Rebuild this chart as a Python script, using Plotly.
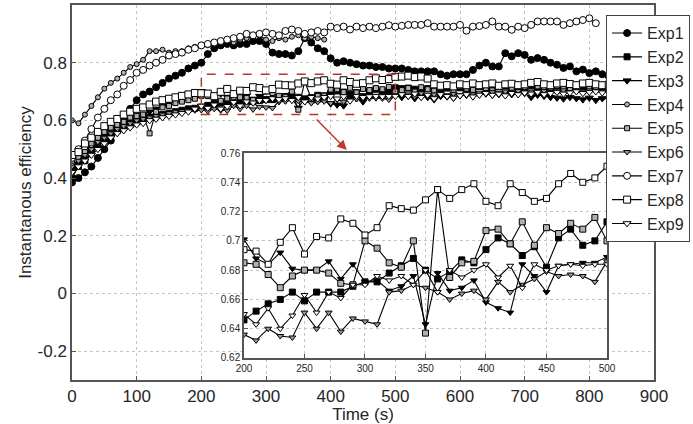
import plotly.graph_objects as go

# sampling every 10 s
time_s = list(range(0, 840, 10))

exp1 = [0.385, 0.40, 0.42, 0.44, 0.47, 0.50, 0.53, 0.57, 0.60, 0.64, 0.67, 0.69, 0.70, 0.715, 0.73, 0.745, 0.755, 0.765, 0.78, 0.79, 0.80,
        0.83, 0.85, 0.86, 0.865, 0.86, 0.865, 0.865, 0.875, 0.875, 0.865, 0.835, 0.83, 0.83, 0.825, 0.84, 0.885, 0.87, 0.85, 0.84, 0.815,
        0.80, 0.805, 0.80, 0.795, 0.79, 0.79, 0.785, 0.785, 0.78, 0.78,
        0.78, 0.775, 0.77, 0.77, 0.77, 0.77, 0.76, 0.755, 0.76, 0.76, 0.76, 0.775, 0.79, 0.80, 0.787, 0.787, 0.833, 0.822, 0.833, 0.827,
        0.81, 0.816, 0.81, 0.80, 0.793, 0.782, 0.787, 0.77, 0.776, 0.764, 0.77, 0.76, 0.753]
exp2 = [0.40, 0.44, 0.46, 0.49, 0.51, 0.53, 0.55, 0.565, 0.575, 0.585, 0.595, 0.605, 0.61, 0.615, 0.62, 0.625, 0.63, 0.635, 0.64, 0.642, 0.646,
        0.652, 0.657, 0.660, 0.665, 0.659, 0.665, 0.665, 0.665, 0.669, 0.672, 0.672, 0.678, 0.683, 0.688, 0.680, 0.674, 0.679, 0.687, 0.685, 0.694,
        0.702, 0.698, 0.690, 0.696, 0.682, 0.702, 0.708, 0.697, 0.700, 0.713,
        0.710, 0.712, 0.708, 0.705, 0.710, 0.715, 0.708, 0.712, 0.716, 0.713, 0.710, 0.714, 0.718, 0.715, 0.712, 0.716, 0.719, 0.715, 0.712, 0.716,
        0.720, 0.716, 0.713, 0.717, 0.719, 0.715, 0.718, 0.720, 0.716, 0.718, 0.720, 0.717, 0.715]
exp3 = [0.43, 0.45, 0.47, 0.50, 0.52, 0.545, 0.56, 0.575, 0.585, 0.60, 0.61, 0.62, 0.63, 0.64, 0.65, 0.66, 0.665, 0.675, 0.68, 0.69, 0.701,
        0.688, 0.684, 0.692, 0.681, 0.680, 0.680, 0.686, 0.674, 0.684, 0.672, 0.673, 0.666, 0.669, 0.676, 0.643, 0.678, 0.666, 0.668, 0.673, 0.658,
        0.654, 0.651, 0.684, 0.676, 0.665, 0.683, 0.684, 0.685, 0.685, 0.689,
        0.680, 0.684, 0.676, 0.686, 0.680, 0.672, 0.684, 0.686, 0.678, 0.686, 0.688, 0.684, 0.690, 0.692, 0.688, 0.690, 0.693, 0.690, 0.692, 0.694,
        0.680, 0.688, 0.684, 0.680, 0.678, 0.675, 0.680, 0.676, 0.672, 0.678, 0.670, 0.676, 0.674]
exp4 = [0.60, 0.59, 0.62, 0.65, 0.68, 0.71, 0.73, 0.745, 0.765, 0.785, 0.795, 0.81, 0.84, 0.84, 0.845, 0.835, 0.84, 0.84, 0.85, 0.855, 0.86,
        0.86, 0.865, 0.87, 0.875, 0.87, 0.88, 0.885, 0.89, 0.895, 0.88, 0.875, 0.885, 0.88, 0.89, 0.895, 0.885, 0.89, 0.885, 0.88]
exp5 = [0.46, 0.47, 0.49, 0.52, 0.54, 0.56, 0.575, 0.585, 0.595, 0.61, 0.615, 0.62, 0.555, 0.63, 0.645, 0.65, 0.66, 0.665, 0.67, 0.675, 0.685,
        0.684, 0.677, 0.668, 0.676, 0.680, 0.680, 0.678, 0.671, 0.670, 0.700, 0.695, 0.685, 0.682, 0.700, 0.637, 0.735, 0.675, 0.685, 0.686, 0.707,
        0.708, 0.698, 0.713, 0.697, 0.709, 0.705, 0.712, 0.708, 0.716, 0.700,
        0.705, 0.712, 0.700, 0.715, 0.708, 0.703, 0.712, 0.716, 0.705, 0.718, 0.710, 0.706, 0.716, 0.712, 0.704, 0.718, 0.722, 0.713, 0.708, 0.716,
        0.724, 0.718, 0.710, 0.714, 0.720, 0.712, 0.708, 0.718, 0.722, 0.716, 0.712, 0.718, 0.720]
exp6 = [0.44, 0.46, 0.48, 0.50, 0.525, 0.54, 0.555, 0.57, 0.58, 0.59, 0.60, 0.605, 0.61, 0.615, 0.62, 0.625, 0.63, 0.632, 0.634, 0.635, 0.636,
        0.632, 0.640, 0.635, 0.634, 0.651, 0.640, 0.651, 0.638, 0.647, 0.645, 0.643, 0.665, 0.666, 0.670, 0.668, 0.665, 0.660, 0.664, 0.666, 0.660,
        0.672, 0.665, 0.670, 0.674, 0.679, 0.676, 0.677, 0.676, 0.672, 0.686,
        0.688, 0.690, 0.682, 0.694, 0.686, 0.690, 0.684, 0.680, 0.692, 0.688, 0.694, 0.690, 0.696, 0.692, 0.698, 0.694, 0.700, 0.696, 0.702, 0.698,
        0.700, 0.696, 0.702, 0.698, 0.700, 0.704, 0.698, 0.702, 0.700, 0.704, 0.702, 0.700, 0.703]
exp7 = [0.47, 0.50, 0.53, 0.57, 0.61, 0.64, 0.67, 0.69, 0.72, 0.74, 0.765, 0.775, 0.79, 0.80, 0.81, 0.825, 0.83, 0.835, 0.845, 0.85, 0.86,
        0.865, 0.87, 0.875, 0.88, 0.885, 0.89, 0.90, 0.895, 0.90, 0.905, 0.90, 0.895, 0.91, 0.915, 0.91, 0.90, 0.905, 0.91, 0.905, 0.925,
        0.92, 0.925, 0.915, 0.925, 0.92, 0.925, 0.92, 0.925, 0.93, 0.925,
        0.928, 0.931, 0.931, 0.931, 0.937, 0.925, 0.925, 0.925, 0.925, 0.931, 0.911, 0.925, 0.927, 0.931, 0.943, 0.925, 0.925, 0.914, 0.925, 0.92,
        0.931, 0.943, 0.943, 0.943, 0.943, 0.931, 0.937, 0.943, 0.948, 0.954, 0.937]
exp8 = [0.48, 0.49, 0.52, 0.54, 0.56, 0.58, 0.595, 0.605, 0.62, 0.63, 0.64, 0.645, 0.655, 0.665, 0.67, 0.675, 0.68, 0.685, 0.69, 0.695, 0.694,
        0.693, 0.684, 0.699, 0.709, 0.691, 0.703, 0.702, 0.715, 0.712, 0.704, 0.709, 0.724, 0.722, 0.721, 0.728, 0.735, 0.729, 0.735, 0.739, 0.727,
        0.724, 0.739, 0.733, 0.727, 0.729, 0.739, 0.746, 0.740, 0.743, 0.751,
        0.752, 0.755, 0.750, 0.752, 0.745, 0.725, 0.720, 0.722, 0.718, 0.725, 0.722, 0.728, 0.722, 0.725, 0.728, 0.720, 0.725, 0.727, 0.722, 0.725,
        0.730, 0.733, 0.725, 0.722, 0.728, 0.730, 0.726, 0.722, 0.728, 0.730, 0.725, 0.722, 0.724]
exp9 = [0.42, 0.44, 0.46, 0.48, 0.50, 0.52, 0.54, 0.555, 0.565, 0.575, 0.585, 0.59, 0.60, 0.605, 0.61, 0.615, 0.62, 0.625, 0.63, 0.64, 0.650,
        0.643, 0.654, 0.640, 0.649, 0.663, 0.651, 0.665, 0.661, 0.670, 0.670, 0.676, 0.673, 0.676, 0.670, 0.680, 0.665, 0.680, 0.675, 0.680, 0.684,
        0.675, 0.683, 0.668, 0.684, 0.680, 0.683, 0.684, 0.683, 0.684, 0.684,
        0.690, 0.684, 0.692, 0.680, 0.688, 0.676, 0.690, 0.684, 0.678, 0.686, 0.690, 0.682, 0.688, 0.694, 0.688, 0.692, 0.686, 0.694, 0.690, 0.696,
        0.692, 0.698, 0.690, 0.694, 0.698, 0.692, 0.696, 0.700, 0.694, 0.698, 0.700, 0.696, 0.698]

series = [("Exp1", exp1), ("Exp2", exp2), ("Exp3", exp3), ("Exp4", exp4), ("Exp5", exp5),
          ("Exp6", exp6), ("Exp7", exp7), ("Exp8", exp8), ("Exp9", exp9)]

y_ticks = [-0.2, 0, 0.2, 0.4, 0.6, 0.8]
y_tick_text = ["-0.2", "0", "0.2", "0.4", "0.6", "0.8"]

# marker look per experiment: symbol, fill, size
looks = {
    "Exp1": ("circle", "black", 7),
    "Exp2": ("square", "black", 6),
    "Exp3": ("triangle-down", "black", 7),
    "Exp4": ("circle", "#b0b0b0", 5),
    "Exp5": ("square", "#b0b0b0", 5),
    "Exp6": ("triangle-down", "#9a9a9a", 6),
    "Exp7": ("circle", "white", 7),
    "Exp8": ("square", "white", 7),
    "Exp9": ("triangle-down", "white", 7),
}
inset_names = ["Exp2", "Exp3", "Exp5", "Exp6", "Exp8", "Exp9"]

FONT = "Liberation Sans, Arial, sans-serif"
fig = go.Figure()

for name, vals in series:
    sym, fill, size = looks[name]
    t = time_s[:len(vals)]
    fig.add_trace(go.Scatter(
        x=t, y=vals, name=name, mode="lines+markers",
        line=dict(color="black", width=1.1),
        marker=dict(symbol=sym, color=fill, size=size, line=dict(color="black", width=1)),
    ))

# inset: zoom on 200-500 s
for name, vals in series:
    if name not in inset_names:
        continue
    sym, fill, size = looks[name]
    t = time_s[:len(vals)]
    xs = [a for a in t if 200 <= a <= 500]
    ys = [v for a, v in zip(t, vals) if 200 <= a <= 500]
    fig.add_trace(go.Scatter(
        x=xs, y=ys, mode="lines+markers", showlegend=False, xaxis="x2", yaxis="y2",
        line=dict(color="black", width=1.1),
        marker=dict(symbol=sym, color=fill, size=6, line=dict(color="black", width=1)),
    ))

grid = dict(showgrid=True, gridcolor="#c4c4c4", griddash="dot", gridwidth=1,
            showline=True, mirror=True, linecolor="#555555", linewidth=1.5,
            ticks="inside", ticklen=4, tickcolor="#555555", zeroline=False)

fig.update_layout(
    width=693, height=424,
    margin=dict(l=72, r=39, t=5, b=44, autoexpand=False),
    paper_bgcolor="white", plot_bgcolor="white",
    font=dict(family=FONT, color="#262626"),
    xaxis=dict(range=[0, 900], dtick=100, tickfont=dict(size=17),
               title=dict(text="Time (s)", font=dict(size=17), standoff=0), **grid),
    yaxis=dict(range=[-0.3, 1.0], tickvals=y_ticks, ticktext=y_tick_text, tickfont=dict(size=17),
               title=dict(text="Instantanous efficiency", font=dict(size=17), standoff=2), **grid),
    xaxis2=dict(domain=[0.2955, 0.9192], anchor="y2", range=[200, 500], dtick=50,
                tickfont=dict(size=10), **grid),
    yaxis2=dict(domain=[0.0587, 0.6053], anchor="x2", range=[0.62, 0.76], dtick=0.02,
                tickfont=dict(size=10), **grid),
    legend=dict(x=1.062, xanchor="right", y=0.973, yanchor="top",
                bgcolor="white", bordercolor="#444444", borderwidth=1,
                font=dict(size=16), itemwidth=30, tracegroupgap=0),
    shapes=[dict(type="rect", xref="x", yref="y", x0=200, x1=500, y0=0.62, y1=0.76,
                 line=dict(color="#b03a2e", width=1.5, dash="dash"))],
    annotations=[dict(x=425, y=0.497, ax=376, ay=0.608, xref="x", yref="y", axref="x", ayref="y",
                      text="", showarrow=True, arrowhead=2, arrowsize=1.3,
                      arrowcolor="#c0392b", arrowwidth=1.5)],
)

# the page's default body margin would push the figure off the window
fig.write_html("out.html", config={"displayModeBar": False},
               post_script="document.body.style.margin='0';")
